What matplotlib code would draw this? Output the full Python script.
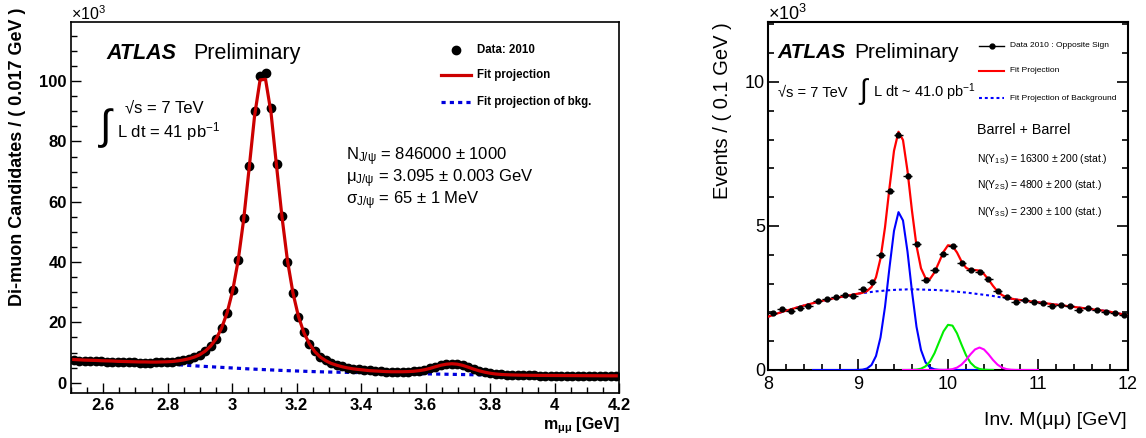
import numpy as np
import matplotlib
matplotlib.use("Agg")
import matplotlib.pyplot as plt
from matplotlib.lines import Line2D
from matplotlib.ticker import MultipleLocator

plt.rcParams['font.family'] = ['Liberation Sans', 'DejaVu Sans']
plt.rcParams['mathtext.fontset'] = 'custom'
plt.rcParams['mathtext.rm'] = 'Liberation Sans'
plt.rcParams['mathtext.it'] = 'Liberation Sans:italic'
plt.rcParams['mathtext.bf'] = 'Liberation Sans:bold'
plt.rcParams['mathtext.default'] = 'regular'

# ---------------- Left panel data (J/psi), bins of 0.017 GeV from 2.5 ----------------
jpsi_bin_start = 2.5
jpsi_bin_width = 0.017
jpsi_data = [7.4, 7.3, 7.3, 7.2, 7.1, 7.1, 7.0, 6.9, 6.9, 6.8,
             6.8, 6.8, 6.7, 6.7, 6.7, 6.8, 6.8, 6.9, 7.0, 7.2,
             7.5, 7.9, 8.4, 9.2, 10.5, 12.2, 14.5, 18.2, 23.2, 30.7,
             40.7, 54.5, 71.9, 90.1, 101.7, 102.7, 91.0, 72.4, 55.3, 40.1,
             29.6, 21.9, 16.7, 12.8, 10.5, 8.6, 7.5, 6.6, 5.9, 5.4,
             5.0, 4.7, 4.5, 4.3, 4.1, 3.9, 3.8, 3.7, 3.6, 3.6,
             3.6, 3.7, 3.8, 4.0, 4.3, 4.8, 5.3, 5.8, 6.1, 6.3,
             6.2, 5.8, 5.2, 4.6, 4.0, 3.5, 3.2, 3.0, 2.8, 2.7,
             2.6, 2.6, 2.5, 2.5, 2.5, 2.4, 2.4, 2.4, 2.4, 2.4,
             2.4, 2.4, 2.3, 2.3, 2.3, 2.3, 2.3, 2.3, 2.3, 2.3]
jpsi_fit = [7.7, 7.6, 7.5, 7.45, 7.4, 7.3, 7.25, 7.2, 7.1, 7.05,
            7.0, 6.95, 6.9, 6.9, 6.85, 6.85, 6.9, 6.95, 7.05, 7.25,
            7.55, 7.95, 8.5, 9.3, 10.5, 12.2, 14.6, 18.2, 23.3, 30.5,
            40.5, 54.0, 71.0, 88.5, 100.4, 100.6, 89.5, 72.0, 55.0, 40.5,
            29.8, 22.0, 16.6, 12.9, 10.3, 8.5, 7.3, 6.4, 5.8, 5.3,
            4.9, 4.6, 4.4, 4.2, 4.0, 3.9, 3.8, 3.7, 3.65, 3.65,
            3.65, 3.7, 3.8, 4.0, 4.3, 4.75, 5.3, 5.8, 6.15, 6.3,
            6.15, 5.75, 5.15, 4.5, 3.95, 3.5, 3.15, 2.9, 2.75, 2.65,
            2.58, 2.53, 2.5, 2.47, 2.45, 2.43, 2.42, 2.41, 2.4, 2.39,
            2.38, 2.37, 2.36, 2.35, 2.34, 2.33, 2.32, 2.31, 2.3, 2.3]
# background projection, on a 0.05 GeV grid from 2.5 to 4.2
jpsi_bkg_start = 2.5
jpsi_bkg = [7.5, 7.35, 7.2, 7.05, 6.85, 6.6, 6.2, 5.85, 5.5, 5.2,
            4.9, 4.6, 4.35, 4.1, 3.9, 3.7, 3.55, 3.45, 3.35, 3.25,
            3.15, 3.05, 2.95, 2.85, 2.75, 2.65, 2.57, 2.5, 2.45, 2.4,
            2.37, 2.34, 2.32, 2.3, 2.28]

# ---------------- Right panel data (Upsilon), bins of 0.1 GeV from 8 ----------------
ups_bin_start = 8.0
ups_bin_width = 0.1
ups_data = [1.97, 2.12, 2.05, 2.16, 2.23, 2.40, 2.46, 2.52, 2.62, 2.56,
            2.81, 3.06, 3.98, 6.23, 8.17, 6.74, 4.36, 3.14, 3.47, 4.04,
            4.31, 3.70, 3.47, 3.41, 3.15, 2.75, 2.55, 2.35, 2.43, 2.35,
            2.31, 2.22, 2.26, 2.22, 2.08, 2.16, 2.08, 2.00, 1.97, 1.91]
# curves on a 0.05 GeV grid
ups_fit_start = 8.0
ups_fit = [1.85, 1.90, 1.96, 2.01, 2.06, 2.10, 2.15, 2.19, 2.24, 2.28,
           2.32, 2.36, 2.40, 2.43, 2.47, 2.50, 2.53, 2.56, 2.59, 2.62,
           2.65, 2.68, 2.74, 2.88, 3.22, 3.87, 4.95, 6.33, 7.61, 8.27,
           7.98, 6.91, 5.52, 4.31, 3.53, 3.19, 3.16, 3.39, 3.74, 4.10,
           4.33, 4.30, 4.08, 3.77, 3.55, 3.47, 3.47, 3.45, 3.33, 3.14,
           2.92, 2.73, 2.60, 2.53, 2.48, 2.45, 2.43, 2.41, 2.39, 2.37,
           2.35, 2.33, 2.31, 2.29, 2.27, 2.25, 2.23, 2.21, 2.19, 2.17,
           2.15, 2.13, 2.11, 2.09, 2.07, 2.05, 2.02, 1.99, 1.96, 1.93, 1.90]
ups_bkg = [1.85, 1.90, 1.96, 2.01, 2.06, 2.10, 2.15, 2.19, 2.24, 2.28,
           2.32, 2.36, 2.40, 2.43, 2.47, 2.50, 2.53, 2.56, 2.59, 2.62,
           2.65, 2.67, 2.69, 2.71, 2.73, 2.74, 2.76, 2.77, 2.78, 2.79,
           2.79, 2.80, 2.80, 2.80, 2.79, 2.79, 2.78, 2.78, 2.77, 2.76,
           2.75, 2.73, 2.72, 2.70, 2.69, 2.67, 2.65, 2.63, 2.61, 2.59,
           2.57, 2.54, 2.52, 2.50, 2.47, 2.45, 2.43, 2.41, 2.39, 2.37,
           2.35, 2.33, 2.31, 2.29, 2.27, 2.25, 2.23, 2.21, 2.19, 2.17,
           2.15, 2.13, 2.11, 2.09, 2.07, 2.05, 2.02, 1.99, 1.96, 1.93, 1.90]
ups1s_start = 8.5
ups1s = [0, 0, 0, 0, 0, 0, 0, 0, 0, 0,
         0.003, 0.013, 0.052, 0.174, 0.486, 1.13, 2.19, 3.56, 4.83, 5.48,
         5.19, 4.11, 2.72, 1.50, 0.695, 0.268, 0.087, 0.023, 0.005, 0.001,
         0, 0, 0, 0, 0, 0, 0, 0, 0, 0, 0]
ups2s_start = 9.5
ups2s = [0, 0.0005, 0.003, 0.014, 0.045, 0.127, 0.296, 0.583, 0.964, 1.341,
         1.568, 1.541, 1.273, 0.884, 0.516, 0.253, 0.104, 0.036, 0.011, 0.003, 0.001]
ups3s_start = 9.5
ups3s = [0, 0, 0, 0, 0, 0, 0, 0.0001, 0.0005, 0.0025,
         0.0096, 0.031, 0.083, 0.186, 0.348, 0.545, 0.713, 0.78, 0.713, 0.545,
         0.348, 0.186, 0.083, 0.031, 0.0096, 0.0025, 0.0005, 0.0001, 0, 0, 0]


def centers(start, width, n):
    return np.round(start + width * (np.arange(n) + 0.5), 4)


def grid(start, step, n):
    return np.round(start + step * np.arange(n), 4)


W, H = 1146, 438
fig = plt.figure(figsize=(W / 100, H / 100), dpi=100)


def fx(x):
    return x / W


def fy(y):
    return 1 - y / H


def ptext(x, y, s, **kw):
    fig.text(fx(x), fy(y), s, **kw)


# ================= Left panel =================
axL = fig.add_axes([fx(71), fy(393.3), (619 - 71) / W, (393.3 - 22) / H])
xL = centers(jpsi_bin_start, jpsi_bin_width, len(jpsi_data))
axL.plot(grid(jpsi_bkg_start, 0.05, len(jpsi_bkg)), jpsi_bkg, color='#0000dd',
         lw=2.3, linestyle=(0, (1.3, 1.3)), zorder=2)
axL.plot(xL, jpsi_data, 'o', color='black', ms=6, zorder=3)
axL.plot(xL, jpsi_fit, color='#cc0000', lw=2.3, zorder=4, solid_joinstyle='round')
axL.set_xlim(2.5, 4.2)
axL.set_ylim(-3.5, 119.6)
axL.xaxis.set_major_locator(MultipleLocator(0.2))
axL.xaxis.set_minor_locator(MultipleLocator(0.05))
axL.yaxis.set_major_locator(MultipleLocator(20))
axL.yaxis.set_minor_locator(MultipleLocator(5))
axL.tick_params(which='both', direction='in', top=False, right=False, width=1.0)
axL.tick_params(which='major', length=7.5)
axL.tick_params(which='minor', length=4)
axL.tick_params(axis='x', which='major', pad=3.5)
axL.tick_params(axis='y', which='major', pad=3)
axL.set_xticks([2.6, 2.8, 3.0, 3.2, 3.4, 3.6, 3.8, 4.0, 4.2])
axL.set_xticklabels(['2.6', '2.8', '3', '3.2', '3.4', '3.6', '3.8', '4', '4.2'])
for lab in axL.get_xticklabels() + axL.get_yticklabels():
    lab.set_fontweight('bold')
    lab.set_fontsize(12)
for sp in axL.spines.values():
    sp.set_linewidth(1.2)

ptext(71, 20, '×10$^{3}$', fontsize=11.5, ha='left', va='baseline')
ptext(18, 8, 'Di-muon Candidates / ( 0.017 GeV )', rotation=90, ha='center',
      va='top', fontsize=13, fontweight='bold')
ptext(620, 429, 'm$_{μμ}$ [GeV]', ha='right', va='baseline', fontsize=11.5,
      fontweight='bold')
ptext(106, 59, 'ATLAS', fontsize=15.5, fontweight='bold', fontstyle='italic',
      ha='left', va='baseline')
ptext(193, 59, 'Preliminary', fontsize=15.5, ha='left', va='baseline')
ptext(106, 128, '∫', fontsize=30, ha='center', va='center')
ptext(125, 112, '√s = 7 TeV', fontsize=12, ha='left', va='baseline')
ptext(117, 137, 'L dt = 41 pb$^{-1}$', fontsize=12, ha='left', va='baseline')

# legend (left)
fig.add_artist(Line2D([fx(456)], [fy(50)], marker='o', color='black', ms=6,
                      transform=fig.transFigure))
fig.add_artist(Line2D([fx(441), fx(471)], [fy(75), fy(75)], color='#cc0000', lw=2.3,
                      transform=fig.transFigure))
fig.add_artist(Line2D([fx(441), fx(471)], [fy(101.7), fy(101.7)], color='#0000dd',
                      lw=2.3, linestyle=(0, (1.3, 1.3)), transform=fig.transFigure))
ptext(477, 50, 'Data: 2010', fontsize=8.3, fontweight='bold', ha='left', va='center')
ptext(477, 75, 'Fit projection', fontsize=8.3, fontweight='bold', ha='left', va='center')
ptext(477, 101.7, 'Fit projection of bkg.', fontsize=8.3, fontweight='bold', ha='left',
      va='center')

ptext(346, 160, 'N$_{J/ψ}$ = 846000 ± 1000', fontsize=12, ha='left', va='baseline')
ptext(346, 182, 'μ$_{J/ψ}$ = 3.095 ± 0.003 GeV', fontsize=12, ha='left', va='baseline')
ptext(346, 204, 'σ$_{J/ψ}$ = 65 ± 1 MeV', fontsize=12, ha='left', va='baseline')

# ================= Right panel =================
axR = fig.add_axes([fx(768), fy(370), (1128 - 768) / W, (370 - 22) / H])
xR = centers(ups_bin_start, ups_bin_width, len(ups_data))
ydat = np.array(ups_data)
axR.plot(grid(ups_fit_start, 0.05, len(ups_bkg)), ups_bkg, color='#0000ff', lw=1.5,
         linestyle=(0, (1.4, 1.4)), zorder=2)
axR.plot(grid(ups1s_start, 0.05, len(ups1s)), ups1s, color='#0000ff', lw=1.5, zorder=3)
axR.plot(grid(ups2s_start, 0.05, len(ups2s)), ups2s, color='#00ee00', lw=1.5, zorder=3)
axR.plot(grid(ups3s_start, 0.05, len(ups3s)), ups3s, color='#ff00ff', lw=1.5, zorder=3)
axR.plot(grid(ups_fit_start, 0.05, len(ups_fit)), ups_fit, color='#ff0000', lw=1.6,
         zorder=4)
axR.errorbar(xR, ydat, xerr=ups_bin_width / 2, yerr=np.sqrt(ydat * 1000) / 1000,
             fmt='o', ms=3.5, color='black', elinewidth=1.0, capsize=0, zorder=5)
axR.set_xlim(8, 12)
axR.set_ylim(0, 12.08)
axR.xaxis.set_major_locator(MultipleLocator(1))
axR.xaxis.set_minor_locator(MultipleLocator(0.2))
axR.yaxis.set_major_locator(MultipleLocator(5))
axR.yaxis.set_minor_locator(MultipleLocator(1))
axR.tick_params(which='both', direction='in', top=False, right=True, width=1.2)
axR.tick_params(which='major', length=8)
axR.tick_params(which='minor', length=4)
axR.tick_params(axis='x', which='major', pad=4.5, labelsize=13)
axR.tick_params(axis='y', which='major', pad=2, labelsize=13)
for sp in axR.spines.values():
    sp.set_linewidth(1.5)

ptext(768, 20, '×10$^{3}$', fontsize=13, ha='left', va='baseline')
ptext(723, 22, 'Events / ( 0.1 GeV )', rotation=90, ha='center', va='top', fontsize=14.5)
ptext(1127, 425, 'Inv. M(μμ) [GeV]', ha='right', va='baseline', fontsize=14)
ptext(777, 58, 'ATLAS', fontsize=15, fontweight='bold', fontstyle='italic', ha='left',
      va='baseline')
ptext(854, 58, 'Preliminary', fontsize=15, ha='left', va='baseline')
ptext(778, 97, '√s = 7 TeV', fontsize=10.5, ha='left', va='baseline')
ptext(863, 92, '∫', fontsize=20, ha='center', va='center')
ptext(873, 97, 'L dt ~ 41.0 pb$^{-1}$', fontsize=10.5, ha='left', va='baseline')

fig.add_artist(Line2D([fx(979), fx(1004)], [fy(45.7), fy(45.7)], color='black', lw=1.0,
                      transform=fig.transFigure))
fig.add_artist(Line2D([fx(991.5)], [fy(45.7)], marker='o', color='black', ms=3.5,
                      transform=fig.transFigure))
fig.add_artist(Line2D([fx(979), fx(1004)], [fy(71), fy(71)], color='#ff0000', lw=1.5,
                      transform=fig.transFigure))
fig.add_artist(Line2D([fx(979), fx(1004)], [fy(98.3), fy(98.3)], color='#0000ff', lw=1.5,
                      linestyle=(0, (1.4, 1.4)), transform=fig.transFigure))
ptext(1010, 45.7, 'Data 2010 : Opposite Sign', fontsize=6, ha='left', va='center')
ptext(1010, 71, 'Fit Projection', fontsize=6, ha='left', va='center')
ptext(1010, 98.3, 'Fit Projection of Background', fontsize=6, ha='left', va='center')
ptext(977, 134, 'Barrel + Barrel', fontsize=10.3, ha='left', va='baseline')
ptext(977, 161.7, 'N(Υ$_{1S}$) = 16300 ± 200 (stat.)', fontsize=7.5, ha='left',
      va='baseline')
ptext(977, 188.3, 'N(Υ$_{2S}$) = 4800 ± 200 (stat.)', fontsize=7.5, ha='left',
      va='baseline')
ptext(977, 215, 'N(Υ$_{3S}$) = 2300 ± 100 (stat.)', fontsize=7.5, ha='left',
      va='baseline')

fig.savefig('out.png', dpi=100)
